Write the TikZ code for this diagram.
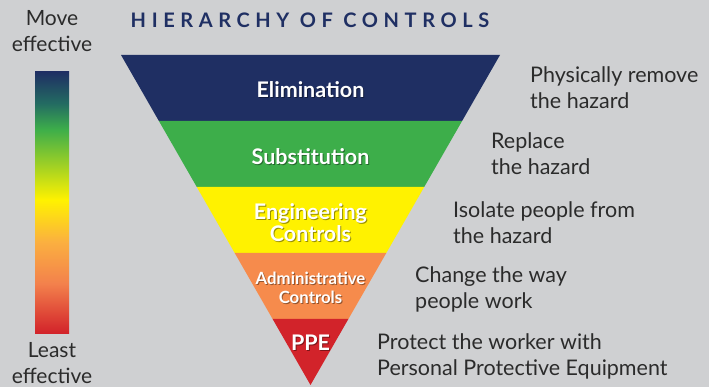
\documentclass[tikz,border=0pt]{standalone}
\usepackage{fontspec}
\setmainfont{Lato}
\usetikzlibrary{calc}

\definecolor{bggray}{HTML}{CFD0D2}
\definecolor{notegray}{HTML}{2B2B2B}
\definecolor{elimblue}{HTML}{1F2F63}
\definecolor{substgreen}{HTML}{3DAE4A}
\definecolor{enggyellow}{HTML}{FFF200}
\definecolor{adminorange}{HTML}{F68B4C}
\definecolor{ppered}{HTML}{D2232A}
\definecolor{tealmid}{HTML}{236B62}
\definecolor{ambermid}{HTML}{FBB040}
\definecolor{salmonmid}{HTML}{F3814C}

\pgfdeclareverticalshading{effective}{100bp}{%
color(0bp)=(ppered); color(25bp)=(ppered); color(34.5bp)=(salmonmid);
color(42.5bp)=(ambermid); color(50.5bp)=(enggyellow); color(64bp)=(substgreen);
color(69bp)=(tealmid); color(75bp)=(elimblue); color(100bp)=(elimblue)}

\begin{document}
\begin{tikzpicture}[x=1pt,y=-1pt]
\tikzstyle{bandlabel}=[text=white, font=\bfseries\fontsize{21.5}{22}\selectfont, align=center, inner sep=0pt]
\tikzstyle{smalllabel}=[bandlabel, font=\bfseries\fontsize{16.8}{19}\selectfont]
\tikzstyle{shadowed}=[text=black, opacity=.4]
\tikzstyle{sidenote}=[anchor=west, align=left, text=notegray, inner sep=0pt, font=\fontsize{21.5}{26}\selectfont]
\tikzstyle{endnote}=[align=center, text=notegray, inner sep=0pt, font=\fontsize{21}{26}\selectfont]
\fill[bggray] (0,0) rectangle (709,387);
\useasboundingbox (0,0) rectangle (709,387);

\node (title) [text=elimblue, inner sep=0pt,
  font=\bfseries\fontsize{20}{22}\selectfont\addfontfeature{LetterSpace=28}] at (310,20) {HIERARCHY OF CONTROLS};

% inverted pyramid
\coordinate (tl) at (121,55);
\coordinate (tr) at (500,55);
\coordinate (apex) at (310.5,385);
\foreach \col [count=\i from 0] in {elimblue,substgreen,enggyellow,adminorange,ppered} {
  \pgfmathsetmacro\ta{\i*0.2}
  \pgfmathsetmacro\tb{(\i+1)*0.2}
  \fill[\col] ($(tl)!\ta!(apex)$) -- ($(tr)!\ta!(apex)$) -- ($(tr)!\tb!(apex)$) -- ($(tl)!\tb!(apex)$) -- cycle;
}

% band labels, shadow first
\node[bandlabel,shadowed] at (311.5,91) {Elimination};
\node (elim) [bandlabel] at (310.5,90) {Elimination};
\node[bandlabel,shadowed] at (311.5,158) {Substitution};
\node (subst) [bandlabel] at (310.5,157) {Substitution};
\node[bandlabel,shadowed] at (311.5,224) {Engineering\\Controls};
\node (engg) [bandlabel] at (310.5,223) {Engineering\\Controls};
\node[smalllabel,shadowed] at (311.5,289) {Administrative\\Controls};
\node (admin) [smalllabel] at (310.5,288) {Administrative\\Controls};
\node[bandlabel,shadowed] at (311.5,344) {PPE};
\node (ppe) [bandlabel] at (310.5,343) {PPE};

% what each control does
\node (noteelim) [sidenote] at (530,88) {Physically remove\\the hazard};
\node (notesubst) [sidenote] at (491,154) {Replace\\the hazard};
\node (noteengg) [sidenote] at (453,223) {Isolate people from\\the hazard};
\node (noteadmin) [sidenote] at (415,289) {Change the way\\people work};
\node (noteppe) [sidenote] at (377,356) {Protect the worker with\\Personal Protective Equipment};

% effectiveness scale
\node (bar) [shading=effective, minimum width=34, minimum height=261, inner sep=0pt] at (52,202.5) {};
\node (most) [endnote] at (52,31.5) {Move\\effective};
\node (least) [endnote] at (52,363.5) {Least\\effective};
\end{tikzpicture}
\end{document}
